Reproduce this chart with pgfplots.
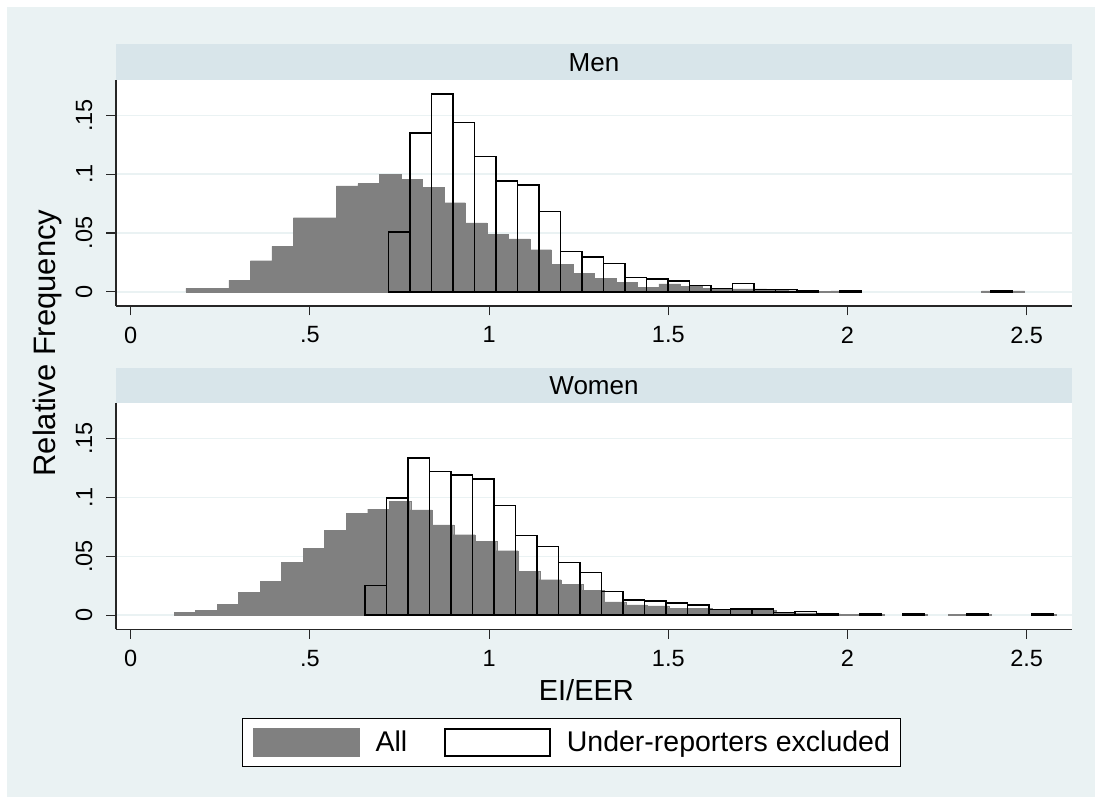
\documentclass[border=0pt]{standalone}
\usepackage{fontspec}
\setmainfont{Liberation Sans}
\usepackage{pgfplots}
\pgfplotsset{compat=1.18}
\definecolor{bgc}{RGB}{234,242,243}
\definecolor{stripc}{RGB}{216,229,234}
\definecolor{gridc}{RGB}{234,242,243}
\definecolor{barc}{RGB}{128,128,128}

\pgfplotsset{
  panel/.style={
    scale only axis, width=956pt, height=226pt,
    xmin=-0.041, xmax=2.6264, ymin=-0.012, ymax=0.18,
    axis x line*=bottom, axis y line*=left,
    axis line style={-, line width=1.2pt, black!85},
    every outer x axis line/.append style={-},
    every outer y axis line/.append style={-},
    xtick={0,0.5,1,1.5,2,2.5}, xticklabels={0,.5,1,1.5,2,2.5},
    ytick={0,0.05,0.1,0.15}, yticklabels={0,.05,.1,.15},
    tick align=outside, major tick length=9.5pt,
    major tick style={line width=1.2pt, black!85},
    ymajorgrids, major grid style={line width=1.5pt, gridc},
    axis background/.style={fill=white},
    tick label style={font=\fontsize{23.5}{28}\selectfont, inner sep=0pt},
    yticklabel style={rotate=90, anchor=south, yshift=14pt},
    xticklabel style={anchor=north, yshift=-11pt},
  },
  grayb/.style={ybar, bar width=0.06, bar shift=0pt, fill=barc, draw=barc, line width=0.2pt},
  outb/.style={ybar, bar width=0.06, bar shift=0pt, fill=none, draw=black, line width=1.5pt},
}

\begin{document}
\begin{tikzpicture}[x=1pt,y=1pt]
\useasboundingbox (0,0) rectangle (1101,803);
\fill[white] (0,0) rectangle (1101,803);
\fill[bgc] (7,6) rectangle (1095,796);

% ---------------- Men ----------------
\begin{axis}[panel, name=top, at={(116pt,497pt)}, anchor=south west]
\addplot[grayb] coordinates {
(0.184,0.003) (0.244,0.003) (0.304,0.010) (0.364,0.0265) (0.424,0.0387)
(0.484,0.063) (0.544,0.063) (0.604,0.090) (0.664,0.092) (0.724,0.100)
(0.784,0.0957) (0.844,0.0886) (0.904,0.0758) (0.964,0.0587) (1.024,0.0487)
(1.084,0.045) (1.144,0.0359) (1.204,0.0236) (1.264,0.016) (1.324,0.0117)
(1.384,0.0083) (1.444,0.004) (1.504,0.0068) (1.564,0.0046) (1.624,0.003)
(1.684,0.0025) (1.744,0.0025) (1.804,0.002) (1.864,0.001) (1.924,0.0005)
(1.984,0.0008) (2.404,0.0008) (2.464,0.0008)
};
\addplot[outb] coordinates {
(0.749,0.0507) (0.809,0.1348) (0.869,0.168) (0.929,0.1439) (0.989,0.115)
(1.049,0.0943) (1.109,0.0906) (1.169,0.0684) (1.229,0.0345) (1.289,0.0296)
(1.349,0.0242) (1.409,0.0122) (1.469,0.0108) (1.529,0.0091) (1.589,0.0054)
(1.649,0.0028) (1.709,0.0071) (1.769,0.0022) (1.829,0.0022) (1.889,0.001)
(2.009,0.001) (2.429,0.001)
};
\end{axis}

% ---------------- Women ----------------
\begin{axis}[panel, name=bot, at={(116pt,173.7pt)}, anchor=south west,
  xlabel={EI/EER},
  xlabel style={font=\fontsize{29}{34}\selectfont, at={(axis description cs:0.492,-0.27)}, anchor=center},
  legend columns=2,
  legend style={at={(0.4767,-0.5)}, anchor=center, draw=black, line width=1pt, fill=white,
    font=\fontsize{28.5}{34}\selectfont, inner xsep=11pt, inner ysep=10pt,
    nodes={inner sep=0pt},
    /tikz/every odd column/.append style={column sep=16pt},
    /tikz/every even column/.append style={column sep=37pt}},
]
\addplot[grayb, legend image code/.code={\fill[barc] (0pt,-14pt) rectangle (106pt,14pt);}] coordinates {
(0.151,0.0023) (0.211,0.004) (0.271,0.009) (0.331,0.0192) (0.391,0.0288)
(0.451,0.0449) (0.511,0.057) (0.571,0.072) (0.631,0.0867) (0.691,0.090)
(0.751,0.0966) (0.811,0.0895) (0.871,0.0768) (0.931,0.0684) (0.991,0.0627)
(1.051,0.0548) (1.111,0.0373) (1.171,0.0302) (1.231,0.0263) (1.291,0.0212)
(1.351,0.0113) (1.411,0.0088) (1.471,0.0079) (1.531,0.0059) (1.591,0.0059)
(1.651,0.0045) (1.711,0.0042) (1.771,0.0042) (1.831,0.002) (1.891,0.002)
(1.951,0.001) (2.011,0.0005) (2.071,0.0008) (2.191,0.0008) (2.311,0.0008)
(2.371,0.0008) (2.551,0.0008)
};
\addlegendentry{All}
\addplot[outb, legend image code/.code={\draw[black, line width=1.5pt] (0pt,-13.5pt) rectangle (105pt,13.5pt);}] coordinates {
(0.684,0.0251) (0.744,0.0994) (0.804,0.1336) (0.864,0.122) (0.924,0.1192)
(0.984,0.1155) (1.044,0.0932) (1.104,0.0678) (1.164,0.0585) (1.224,0.0446)
(1.284,0.0362) (1.344,0.0203) (1.404,0.0127) (1.464,0.0121) (1.524,0.0105)
(1.584,0.0085) (1.644,0.0048) (1.704,0.0054) (1.764,0.0054) (1.824,0.0023)
(1.884,0.003) (1.944,0.0014) (2.064,0.001) (2.184,0.001) (2.364,0.001)
(2.544,0.001)
};
\addlegendentry{Under-reporters excluded}
\end{axis}

% panel headers
\fill[stripc] (top.north west) rectangle ([yshift=35.5pt]top.north east);
\node at ([yshift=17.75pt]top.north) {\fontsize{26}{30}\selectfont Men};
\fill[stripc] (bot.north west) rectangle ([yshift=35.5pt]bot.north east);
\node at ([yshift=17.75pt]bot.north) {\fontsize{26}{30}\selectfont Women};

% common y title
\node[rotate=90] at (47,460) {\fontsize{31}{36}\selectfont Relative Frequency};
\end{tikzpicture}
\end{document}
